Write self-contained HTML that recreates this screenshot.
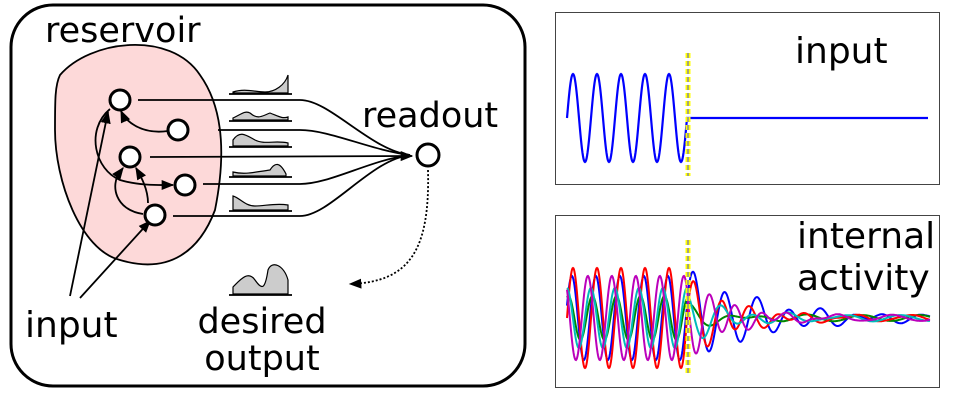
<!DOCTYPE html>
<html><head><meta charset="utf-8"><style>
html,body{margin:0;padding:0;background:#fff}
svg{display:block;font-family:"DejaVu Sans","Liberation Sans",sans-serif}
</style></head><body>
<svg width="959" height="404" viewBox="0 0 959 404">
<defs>
<marker id="ah" viewBox="0 0 10 10" refX="9" refY="5" markerWidth="7" markerHeight="7" orient="auto"><path d="M0,1 L10,5 L0,9z" fill="#000"/></marker>
</defs>
<rect x="11" y="5" width="514" height="381" rx="42" fill="#fff" stroke="#000" stroke-width="3"/>
<text x="45" y="42" font-size="35">reservoir</text>
<path d="M60,75 C90,40 170,30 200,75 C225,110 225,160 215,210 C200,250 170,275 120,260 C80,250 55,180 55,130 C55,100 55,85 60,75z" fill="#fdd9d9" stroke="#000" stroke-width="1.8"/>
<g fill="none" stroke="#000" stroke-width="1.8">
<path d="M138,100 L300,100 C330,100 370,150 410,155"/>
<path d="M218,130 L300,130 C330,130 370,150 410,155"/>
<path d="M150,157 L412,156" marker-end="url(#ah)"/>
<path d="M203,184 L300,184 C330,184 370,160 410,155"/>
<path d="M173,216 L300,216 C330,216 370,160 410,155"/>
</g>
<g fill="none" stroke="#000" stroke-width="1.8">
<path d="M168,131 C140,135 125,120 121,111" marker-end="url(#ah)"/>
<path d="M110,109 C85,130 95,170 120,180 C140,186 160,185 173,185" marker-end="url(#ah)"/>
<path d="M143,214 C115,210 110,185 120,172 L123,168" marker-end="url(#ah)"/>
<path d="M148,203 C148,188 140,175 136,168" marker-end="url(#ah)"/>
<path d="M70,296 L108,112" marker-end="url(#ah)"/>
<path d="M80,298 L150,221" marker-end="url(#ah)"/>
</g>
<g fill="#fff" stroke="#000" stroke-width="3">
<circle cx="120" cy="100" r="10"/><circle cx="178" cy="130" r="10"/><circle cx="130" cy="157" r="10"/><circle cx="185" cy="185" r="10"/><circle cx="155" cy="215" r="10"/>
</g>
<circle cx="428" cy="155" r="11" fill="#fff" stroke="#000" stroke-width="3"/>
<text x="362" y="127" font-size="35">readout</text>
<path d="M428,170 C430,250 410,282 350,284" fill="none" stroke="#000" stroke-width="1.8" stroke-dasharray="2,2" marker-end="url(#ah)"/>
<g fill="#ccc" stroke="#000" stroke-width="1.2">
<path d="M233,92 C245,88 255,92 265,92 C275,92 285,85 288,75 L288,93 L233,93z"/>
<path d="M233,118 C240,115 245,110 250,113 C258,120 262,116 270,113 C278,116 282,119 288,117 L288,120 L233,120z"/>
<path d="M233,140 C240,130 246,135 255,140 C265,145 275,140 288,143 L288,146 L233,146z"/>
<path d="M233,172 C245,175 255,172 270,170 C275,162 280,162 286,174 L286,176 L233,176z"/>
<path d="M233,196 C240,198 245,206 255,206 C265,206 275,203 288,205 L288,210 L233,210z"/>
<path d="M233,287 C240,280 248,270 255,280 C262,290 265,290 268,270 C272,260 284,265 288,280 L288,294 L233,294z"/>
</g>
<g stroke="#000" stroke-width="1.8">
<line x1="229" y1="94" x2="292" y2="94"/><line x1="229" y1="121" x2="292" y2="121"/><line x1="229" y1="147" x2="292" y2="147"/><line x1="229" y1="177" x2="292" y2="177"/><line x1="229" y1="211" x2="292" y2="211"/><line x1="229" y1="295" x2="292" y2="295"/>
</g>
<text x="25" y="337" font-size="36">input</text>
<text x="262" y="333" font-size="35" text-anchor="middle">desired</text>
<text x="262" y="370" font-size="35" text-anchor="middle">output</text>

<rect x="555.5" y="12.5" width="384" height="172" fill="#fff" stroke="#444" stroke-width="1"/>
<text x="795" y="63" font-size="36">input</text>
<path id="inwave" fill="none" stroke="#00f" stroke-width="2.2"/>
<rect x="555.5" y="215.5" width="384" height="172" fill="#fff" stroke="#444" stroke-width="1"/>
<g id="act"></g>
<line x1="688" y1="53" x2="688" y2="176" stroke="#ff0" stroke-width="5" stroke-dasharray="5,3"/>
<line x1="688" y1="53" x2="688" y2="176" stroke="#889" stroke-width="1.5" stroke-dasharray="5,3"/>
<line x1="688" y1="240" x2="688" y2="376" stroke="#ff0" stroke-width="5" stroke-dasharray="5,3"/>
<line x1="688" y1="240" x2="688" y2="376" stroke="#889" stroke-width="1.5" stroke-dasharray="5,3"/>
<text x="797" y="248" font-size="36">internal</text>
<text x="797" y="290" font-size="36">activity</text>
</svg>
<script>
// input signal
const inputCycles = 5, inputAmp = 44;
// internal activity series parameters
const seriesColors = ['#00f','#080','#f00','#0bb','#b0b'];
const seriesAmp = [42, 22, 50, 30, 42];
const seriesPhase = [0.3, 1.2, 0.0, 1.6, 2.4];
const seriesPostAmp = [48, 12, 40, 24, 40];
const seriesDecay = [70, 40, 45, 45, 40];
const seriesPostPeriod = [32, 40, 28, 34, 26];

const ns='http://www.w3.org/2000/svg';
(function(){
  const x0=567,x1=687,cy=118,per=(x1-x0)/inputCycles;
  let d='';
  for(let x=x0;x<=x1;x+=0.5){d+=(x==x0?'M':'L')+x+','+(cy-inputAmp*Math.sin(2*Math.PI*(x-x0)/per)).toFixed(1);}
  d+='L928,'+cy;
  document.getElementById('inwave').setAttribute('d',d);
  const g=document.getElementById('act');
  const cy2=318, xs=567, xc=688, xe=930, per2=24;
  for(let i=0;i<seriesColors.length;i++){
    let s='';
    let ph=seriesPhase[i];
    let phc=ph+2*Math.PI*(xc-xs)/per2;
    for(let x=xs;x<=xe;x+=0.5){
      let y;
      if(x<=xc) y=seriesAmp[i]*Math.sin(ph+2*Math.PI*(x-xs)/per2);
      else y=seriesPostAmp[i]*Math.exp(-(x-xc)/seriesDecay[i])*Math.sin(phc+2*Math.PI*(x-xc)/seriesPostPeriod[i]) + 3*Math.sin((x-xc)/9+i);
      s+=(x==xs?'M':'L')+x+','+(cy2-y).toFixed(1);
    }
    const p=document.createElementNS(ns,'path');
    p.setAttribute('d',s);p.setAttribute('fill','none');p.setAttribute('stroke',seriesColors[i]);p.setAttribute('stroke-width','2');
    
    
    g.appendChild(p);
  }
})();
</script>
</body></html>
